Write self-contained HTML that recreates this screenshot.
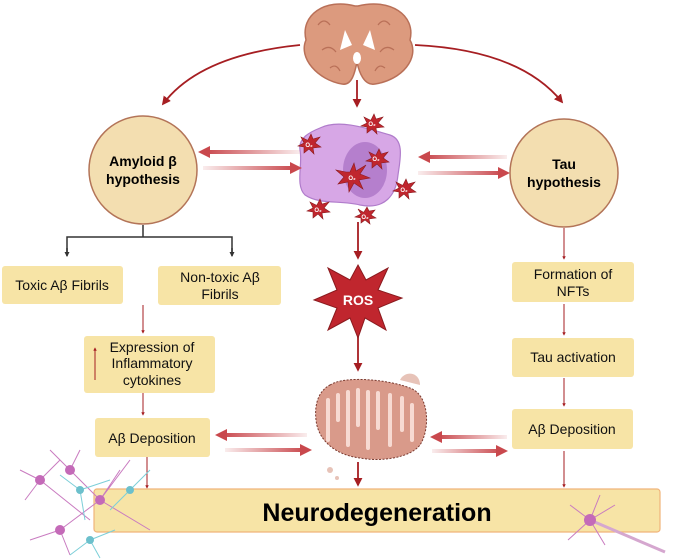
<!DOCTYPE html>
<html><head><meta charset="utf-8"><style>
body{margin:0;background:#fff;}
svg{display:block;font-family:"Liberation Sans",sans-serif;}
</style></head><body>
<svg width="685" height="560" viewBox="0 0 685 560" xmlns="http://www.w3.org/2000/svg">
<defs>
<marker id="ah" viewBox="0 0 10 10" refX="8" refY="5" markerWidth="5" markerHeight="5" orient="auto"><path d="M0,0L10,5L0,10z" fill="#a61e22"/></marker>
<marker id="ahs" viewBox="0 0 10 10" refX="8" refY="5" markerWidth="3.5" markerHeight="3.5" orient="auto"><path d="M0,0L10,5L0,10z" fill="#a61e22"/></marker>
<marker id="ahb" viewBox="0 0 10 10" refX="8" refY="5" markerWidth="3.5" markerHeight="3.5" orient="auto"><path d="M0,0L10,5L0,10z" fill="#333"/></marker>
<linearGradient id="gl" x1="0" x2="1"><stop offset="0" stop-color="#c9484d"/><stop offset="1" stop-color="#c9484d" stop-opacity="0.1"/></linearGradient>
<linearGradient id="gr" x1="0" x2="1"><stop offset="0" stop-color="#c9484d" stop-opacity="0.1"/><stop offset="1" stop-color="#c9484d"/></linearGradient>
</defs>

<!-- brain -->
<g>
<path d="M355,6 C325,-2 300,15 306,40 C298,58 318,80 342,84 C352,86 355,72 357,62 C359,72 364,86 375,84 C402,80 420,58 410,40 C416,15 390,-2 358,6z" fill="#dc9a7e" stroke="#b97058" stroke-width="1.5"/>
<path d="M318,25 q6,-8 12,0 M322,50 q8,-6 14,2 M390,25 q-6,-8 -12,0 M394,50 q-8,-6 -14,2 M330,68 q6,-5 10,3 M385,68 q-6,-5 -10,3" stroke="#b97058" stroke-width="1.2" fill="none"/>
<path d="M345,30 L352,45 L340,50z M370,30 L363,45 L375,50z" fill="#fff"/>
<ellipse cx="357" cy="58" rx="4" ry="6" fill="#fff"/>
</g>

<path d="M300,45 Q200,55 163,104" fill="none" stroke="#a61e22" stroke-width="1.8" marker-end="url(#ah)"/>
<path d="M415,45 Q520,50 562,102" fill="none" stroke="#a61e22" stroke-width="1.8" marker-end="url(#ah)"/>
<line x1="357" y1="80" x2="357" y2="106" stroke="#a61e22" stroke-width="1.8" marker-end="url(#ah)"/>

<!-- cell -->
<path d="M320,128 C340,118 372,130 390,135 C405,140 400,160 398,175 C396,195 385,210 360,205 C340,200 320,205 305,195 C295,185 303,165 300,150 C298,138 310,132 320,128z" fill="#d7a7e6" stroke="#b07ccb" stroke-width="1.2"/>
<ellipse cx="365" cy="170" rx="22" ry="28" fill="#b57fcd"/>
<g fill="#c0262e" stroke="#8a1a1e" stroke-width="0.6">
<polygon points="350,172 354,163 356,171 366,165 360,174 370,178 359,180 363,189 354,183 349,192 348,182 338,184 344,177 336,170 346,172"/>
<polygon points="376,155 379,149 381,154 388,152 383,158 389,162 381,163 382,169 377,164 372,168 372,162 366,161 372,158 369,152 375,155"/>
<polygon points="371,120 374,114 376,119 383,117 378,123 384,127 376,128 377,134 372,129 367,133 367,127 361,126 367,123 364,117 370,120"/>
<polygon points="308,140 311,134 313,139 320,137 315,143 321,147 313,148 314,154 309,149 304,153 304,147 298,146 304,143 301,137 307,140"/>
<polygon points="403,185 406,179 408,184 415,182 410,188 416,192 408,193 409,199 404,194 399,198 399,192 393,191 399,188 396,182 402,185"/>
<polygon points="317,205 320,199 322,204 329,202 324,208 330,212 322,213 323,219 318,214 313,218 313,212 307,211 313,208 310,202 316,205"/>
<polygon points="364,212 367,207 369,211 375,210 371,215 376,218 369,219 370,224 365,220 361,223 361,218 355,217 361,214 358,209 363,212"/>
</g>
<g fill="#fff" font-size="6" font-weight="bold" text-anchor="middle"><text x="352" y="180">O₂</text><text x="376" y="161">O₂</text><text x="372" y="126">O₂</text><text x="309" y="147">O₂</text><text x="404" y="192">O₂</text><text x="318" y="212">O₂</text><text x="365" y="219">O₂</text></g>

<rect x="205" y="150" width="95" height="4" fill="url(#gl)"/><path d="M198,152 L210,146 L210,158z" fill="#c9484d"/>
<rect x="203" y="166" width="92" height="4" fill="url(#gr)"/><path d="M302,168 L290,162 L290,174z" fill="#c9484d"/>
<rect x="425" y="155" width="82" height="4" fill="url(#gl)"/><path d="M418,157 L430,151 L430,163z" fill="#c9484d"/>
<rect x="418" y="171" width="85" height="4" fill="url(#gr)"/><path d="M510,173 L498,167 L498,179z" fill="#c9484d"/>

<circle cx="143" cy="170" r="54" fill="#f3deb0" stroke="#b37458" stroke-width="1.5"/>
<text x="143" y="166" font-size="14" font-weight="bold" text-anchor="middle">Amyloid β</text>
<text x="143" y="184" font-size="14" font-weight="bold" text-anchor="middle">hypothesis</text>
<circle cx="564" cy="173" r="54" fill="#f3deb0" stroke="#b37458" stroke-width="1.5"/>
<text x="564" y="169" font-size="14" font-weight="bold" text-anchor="middle">Tau</text>
<text x="564" y="187" font-size="14" font-weight="bold" text-anchor="middle">hypothesis</text>

<path d="M143,225 V237 H67 V254 M143,237 H232 V254" fill="none" stroke="#333" stroke-width="1.5"/>
<line x1="67" y1="248" x2="67" y2="256" stroke="#333" stroke-width="1.5" marker-end="url(#ahb)"/>
<line x1="232" y1="248" x2="232" y2="256" stroke="#333" stroke-width="1.5" marker-end="url(#ahb)"/>

<g fill="#f7e4a6">
<rect x="2" y="266" width="121" height="38" rx="3"/>
<rect x="158" y="266" width="123" height="39" rx="3"/>
<rect x="84" y="336" width="131" height="57" rx="3"/>
<rect x="95" y="418" width="115" height="39" rx="3"/>
<rect x="512" y="262" width="122" height="40" rx="3"/>
<rect x="512" y="338" width="122" height="39" rx="3"/>
<rect x="512" y="409" width="121" height="40" rx="3"/>
<rect x="94" y="489" width="566" height="43" rx="3" stroke="#f0b47a" stroke-width="1.2"/>
</g>
<g font-size="14" text-anchor="middle" fill="#111">
<text x="62" y="290">Toxic Aβ Fibrils</text>
<text x="220" y="282">Non-toxic Aβ</text><text x="220" y="299">Fibrils</text>
<text x="152" y="352">Expression of</text><text x="152" y="368">Inflammatory</text><text x="152" y="385">cytokines</text>
<text x="152" y="443">Aβ Deposition</text>
<text x="573" y="279">Formation of</text><text x="573" y="296">NFTs</text>
<text x="573" y="362">Tau activation</text>
<text x="572" y="434">Aβ Deposition</text>
</g>
<text x="377" y="521" font-size="25" font-weight="bold" text-anchor="middle">Neurodegeneration</text>
<line x1="95" y1="380" x2="95" y2="348" stroke="#a61e22" stroke-width="1" marker-end="url(#ahs)"/>

<g stroke="#a61e22" stroke-width="1" fill="none">
<line x1="143" y1="305" x2="143" y2="333" marker-end="url(#ahs)"/>
<line x1="143" y1="393" x2="143" y2="415" marker-end="url(#ahs)"/>
<line x1="147" y1="457" x2="147" y2="488" marker-end="url(#ahs)"/>
<line x1="564" y1="228" x2="564" y2="259" marker-end="url(#ahs)"/>
<line x1="564" y1="304" x2="564" y2="335" marker-end="url(#ahs)"/>
<line x1="564" y1="378" x2="564" y2="406" marker-end="url(#ahs)"/>
<line x1="564" y1="451" x2="564" y2="487" marker-end="url(#ahs)"/>
</g>

<line x1="358" y1="222" x2="358" y2="258" stroke="#a61e22" stroke-width="1.8" marker-end="url(#ah)"/>
<line x1="358" y1="335" x2="358" y2="370" stroke="#a61e22" stroke-width="1.8" marker-end="url(#ah)"/>
<line x1="358" y1="462" x2="358" y2="485" stroke="#a61e22" stroke-width="1.8" marker-end="url(#ah)"/>

<polygon points="358,265 366,280 388,268 378,290 402,298 378,308 386,330 365,318 358,338 350,318 328,330 337,308 314,300 337,290 328,268 350,280" fill="#c0262e" stroke="#8a1a1e" stroke-width="1"/>
<text x="358" y="305" font-size="14" font-weight="bold" fill="#fff" text-anchor="middle">ROS</text>

<path d="M330,385 C345,375 390,380 410,388 C430,395 430,430 420,445 C410,458 380,462 360,458 C335,455 318,440 316,420 C314,402 320,390 330,385z" fill="#d99a8a" stroke="#7a3a30" stroke-width="1" stroke-dasharray="2,1.5"/>
<path d="M328,400 V440 M338,395 V420 M348,392 V445 M358,390 V425 M368,392 V448 M378,393 V428 M390,395 V445 M402,398 V430 M412,405 V440" stroke="#f7dad2" stroke-width="4" stroke-linecap="round"/>
<path d="M400,380 C405,370 420,372 420,385z" fill="#e7c3b8"/>
<circle cx="330" cy="470" r="3" fill="#e7c3b8"/><circle cx="337" cy="478" r="2" fill="#e7c3b8"/>

<rect x="222" y="433" width="85" height="4" fill="url(#gl)"/><path d="M215,435 L227,429 L227,441z" fill="#c9484d"/>
<rect x="225" y="448" width="80" height="4" fill="url(#gr)"/><path d="M312,450 L300,444 L300,456z" fill="#c9484d"/>
<rect x="437" y="435" width="70" height="4" fill="url(#gl)"/><path d="M430,437 L442,431 L442,443z" fill="#c9484d"/>
<rect x="432" y="449" width="70" height="4" fill="url(#gr)"/><path d="M508,451 L496,445 L496,457z" fill="#c9484d"/>

<g stroke="#c97bc0" stroke-width="1" fill="none">
<path d="M40,480 L20,470 M40,480 L25,500 M40,480 L60,460 M70,470 L50,450 M70,470 L80,450 M70,470 L100,500 M40,480 L90,520 M100,500 L130,460 M100,500 L60,530 M100,500 L150,530 M60,530 L30,540 M60,530 L70,555 M100,500 L120,470"/>
</g>
<g stroke="#7ccfd8" stroke-width="1" fill="none">
<path d="M80,490 L60,475 M80,490 L110,480 M80,490 L85,520 M130,490 L150,470 M130,490 L110,510 M90,540 L70,555 M90,540 L115,530 M90,540 L100,558"/>
</g>
<g fill="#c46ab8"><circle cx="40" cy="480" r="5"/><circle cx="70" cy="470" r="5"/><circle cx="100" cy="500" r="5"/><circle cx="60" cy="530" r="5"/></g>
<g fill="#6cc0cc"><circle cx="80" cy="490" r="4"/><circle cx="130" cy="490" r="4"/><circle cx="90" cy="540" r="4"/></g>
<g stroke="#c97bc0" stroke-width="1" fill="none">
<path d="M590,520 L570,505 M590,520 L600,495 M590,520 L615,505 M590,520 L568,540 M590,520 L605,545"/>
</g>
<path d="M590,520 L665,552" stroke="#d5a7cf" stroke-width="3"/>
<circle cx="590" cy="520" r="6" fill="#c46ab8"/>
</svg>
</body></html>
